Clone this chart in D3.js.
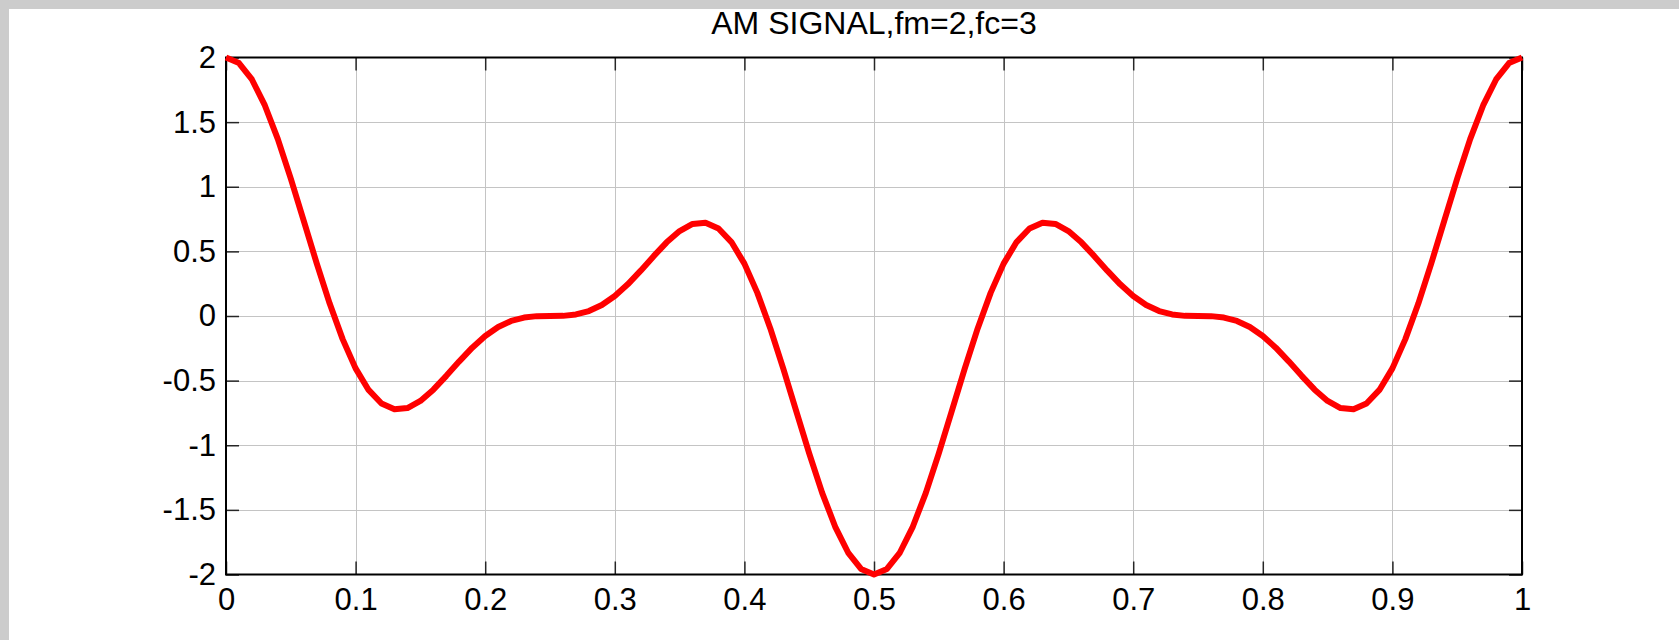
<!DOCTYPE html>
<html>
<head>
<meta charset="utf-8">
<script src="https://cdn.jsdelivr.net/npm/d3@7"></script>
<style>
  html, body { margin: 0; padding: 0; background: #fff; }
  svg { display: block; }
</style>
</head>
<body>
<script>
// ---- data ----
const title = "AM SIGNAL,fm=2,fc=3";
const tValues = [
  0.00,0.01,0.02,0.03,0.04,0.05,0.06,0.07,0.08,0.09,
  0.10,0.11,0.12,0.13,0.14,0.15,0.16,0.17,0.18,0.19,
  0.20,0.21,0.22,0.23,0.24,0.25,0.26,0.27,0.28,0.29,
  0.30,0.31,0.32,0.33,0.34,0.35,0.36,0.37,0.38,0.39,
  0.40,0.41,0.42,0.43,0.44,0.45,0.46,0.47,0.48,0.49,
  0.50,0.51,0.52,0.53,0.54,0.55,0.56,0.57,0.58,0.59,
  0.60,0.61,0.62,0.63,0.64,0.65,0.66,0.67,0.68,0.69,
  0.70,0.71,0.72,0.73,0.74,0.75,0.76,0.77,0.78,0.79,
  0.80,0.81,0.82,0.83,0.84,0.85,0.86,0.87,0.88,0.89,
  0.90,0.91,0.92,0.93,0.94,0.95,0.96,0.97,0.98,0.99,1.00
];
const signalValues = [
  2.000,1.957,1.830,1.629,1.368,1.063,0.736,0.407,0.096,-0.179,
  -0.405,-0.572,-0.677,-0.722,-0.712,-0.657,-0.570,-0.463,-0.351,-0.245,
  -0.155,-0.085,-0.038,-0.012,-0.001,0.000,0.001,0.012,0.038,0.085,
  0.155,0.245,0.351,0.463,0.570,0.657,0.712,0.722,0.677,0.572,
  0.405,0.179,-0.096,-0.407,-0.736,-1.063,-1.368,-1.629,-1.830,-1.957,
  -2.000,-1.957,-1.830,-1.629,-1.368,-1.063,-0.736,-0.407,-0.096,0.179,
  0.405,0.572,0.677,0.722,0.712,0.657,0.570,0.463,0.351,0.245,
  0.155,0.085,0.038,0.012,0.001,0.000,-0.001,-0.012,-0.038,-0.085,
  -0.155,-0.245,-0.351,-0.463,-0.570,-0.657,-0.712,-0.722,-0.677,-0.572,
  -0.405,-0.179,0.096,0.407,0.736,1.063,1.368,1.629,1.830,1.957,2.000
];
const xTicks = [0,0.1,0.2,0.3,0.4,0.5,0.6,0.7,0.8,0.9,1];
const xTickLabels = ["0","0.1","0.2","0.3","0.4","0.5","0.6","0.7","0.8","0.9","1"];
const yTicks = [-2,-1.5,-1,-0.5,0,0.5,1,1.5,2];
const yTickLabels = ["-2","-1.5","-1","-0.5","0","0.5","1","1.5","2"];

// ---- layout ----
const W = 1679, H = 640;
const plot = { left: 226, right: 1522, top: 57.5, bottom: 574.5 };
const fontFamily = "'Liberation Sans', Arial, Helvetica, sans-serif";
const tickFontSize = 31;
const titleFontSize = 32;
const tickLen = 13;

const svg = d3.select("body").append("svg")
  .attr("width", W).attr("height", H);

// figure background with grey strips
svg.append("rect").attr("x", 0).attr("y", 0).attr("width", W).attr("height", H).attr("fill", "#cccccc");
svg.append("rect").attr("x", 9).attr("y", 9).attr("width", W - 9).attr("height", H - 9).attr("fill", "#ffffff");

const x = d3.scaleLinear().domain([0, 1]).range([plot.left, plot.right]);
const y = d3.scaleLinear().domain([-2, 2]).range([plot.bottom, plot.top]);

// grid
const grid = svg.append("g").attr("stroke", "#c4c4c4").attr("stroke-width", 1).attr("shape-rendering", "crispEdges");
grid.selectAll("line.gx").data(xTicks.slice(1, -1)).join("line")
  .attr("x1", d => Math.round(x(d)) + 0.5).attr("x2", d => Math.round(x(d)) + 0.5)
  .attr("y1", plot.top).attr("y2", plot.bottom);
grid.selectAll("line.gy").data(yTicks.slice(1, -1)).join("line")
  .attr("y1", d => Math.round(y(d)) + 0.5).attr("y2", d => Math.round(y(d)) + 0.5)
  .attr("x1", plot.left).attr("x2", plot.right);

// axes (ticks inward, all four sides)
const fmtX = d => xTickLabels[xTicks.indexOf(d)];
const fmtY = d => yTickLabels[yTicks.indexOf(d)];

function styleAxis(g) {
  g.select(".domain").remove();
  g.selectAll(".tick line").attr("stroke", "#262626").attr("stroke-width", 1.5);
  g.selectAll(".tick text").attr("font-family", fontFamily).attr("font-size", tickFontSize).attr("fill", "#000");
}

svg.append("g").attr("transform", `translate(0,${plot.bottom})`)
  .call(d3.axisBottom(x).tickValues(xTicks).tickFormat(fmtX).tickSizeInner(-tickLen).tickSizeOuter(0).tickPadding(13))
  .call(styleAxis);
svg.append("g").attr("transform", `translate(0,${plot.top})`)
  .call(d3.axisTop(x).tickValues(xTicks).tickFormat("").tickSizeInner(-tickLen).tickSizeOuter(0))
  .call(styleAxis);
svg.append("g").attr("transform", `translate(${plot.left},0)`)
  .call(d3.axisLeft(y).tickValues(yTicks).tickFormat(fmtY).tickSizeInner(-tickLen).tickSizeOuter(0).tickPadding(10))
  .call(styleAxis);
svg.append("g").attr("transform", `translate(${plot.right},0)`)
  .call(d3.axisRight(y).tickValues(yTicks).tickFormat("").tickSizeInner(-tickLen).tickSizeOuter(0))
  .call(styleAxis);

// box
svg.append("rect")
  .attr("x", plot.left).attr("y", plot.top)
  .attr("width", plot.right - plot.left).attr("height", plot.bottom - plot.top)
  .attr("fill", "none").attr("stroke", "#000").attr("stroke-width", 2);

// signal line
const data = tValues.map((t, i) => ({ t, v: signalValues[i] }));
svg.append("path")
  .datum(data)
  .attr("fill", "none")
  .attr("stroke", "#ff0000")
  .attr("stroke-width", 6)
  .attr("stroke-linejoin", "round")
  .attr("d", d3.line().x(d => x(d.t)).y(d => y(d.v)));

// title
svg.append("text")
  .attr("x", (plot.left + plot.right) / 2)
  .attr("y", 34)
  .attr("text-anchor", "middle")
  .attr("font-family", fontFamily)
  .attr("font-size", titleFontSize)
  .attr("fill", "#000")
  .text(title);
</script>
</body>
</html>
